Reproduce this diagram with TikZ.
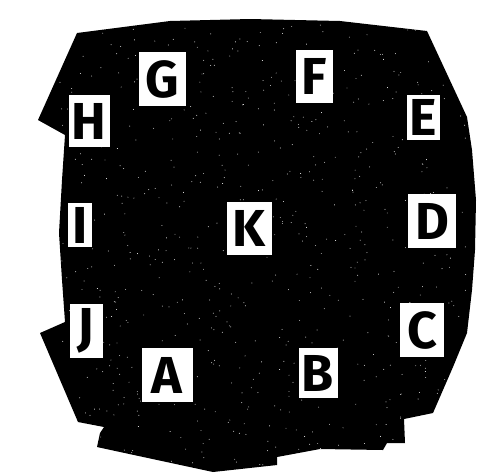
\documentclass[tikz,border=0pt]{standalone}
\usepackage{fontspec}
\setmainfont{Fira Sans}
\begin{document}
\begin{tikzpicture}[x=1pt,y=-1pt,
  lbl/.style={fill=white,draw=none,inner sep=0pt,font=\fontsize{52}{52}\selectfont\bfseries,text=black}]
\useasboundingbox (0,0) rectangle (487,475);
\def\blob{(77,33) -- (170,21) -- (250,19) -- (340,21) -- (427,31)
  -- (467,117) -- (472,150) -- (476,200) -- (475,250) -- (472,290) -- (467,333)
  -- (453,367) -- (433,413) -- (404,419) -- (405,443) -- (387,443) -- (383,450)
  -- (320,449) -- (277,457) -- (277,465) -- (213,472) -- (120,452) -- (97,447)
  -- (100,433) -- (104,427) -- (78,422) -- (40,333) -- (65,322) -- (62,280)
  -- (59,233) -- (62,180) -- (65,135) -- (38,120) -- cycle}
\fill[black] \blob;
\begin{scope}
\clip \blob;
\pgfmathsetseed{7}
\foreach \i in {1,...,700} {
  \pgfmathsetmacro{\px}{60+rnd*410}
  \pgfmathsetmacro{\py}{25+rnd*440}
  \fill[white] (\px,\py) circle[radius=0.45];
}
\end{scope}
\node[lbl,minimum width=47,minimum height=54] (G) at (162,79) {G};
\node[lbl,minimum width=37,minimum height=53] (F) at (314,76) {F};
\node[lbl,minimum width=41,minimum height=52] (H) at (89,121) {H};
\node[lbl,minimum width=33,minimum height=45] (E) at (423,117) {E};
\node[lbl,minimum width=24,minimum height=44] (I) at (80,225) {I};
\node[lbl,minimum width=45,minimum height=53] (K) at (249,228) {K};
\node[lbl,minimum width=48,minimum height=54] (D) at (432,221) {D};
\node[lbl,minimum width=33,minimum height=54] (J) at (86,331) {J};
\node[lbl,minimum width=44,minimum height=54] (C) at (422,330) {C};
\node[lbl,minimum width=51,minimum height=54] (A) at (167,375) {A};
\node[lbl,minimum width=39,minimum height=50] (B) at (318,373) {B};
\end{tikzpicture}
\end{document}
